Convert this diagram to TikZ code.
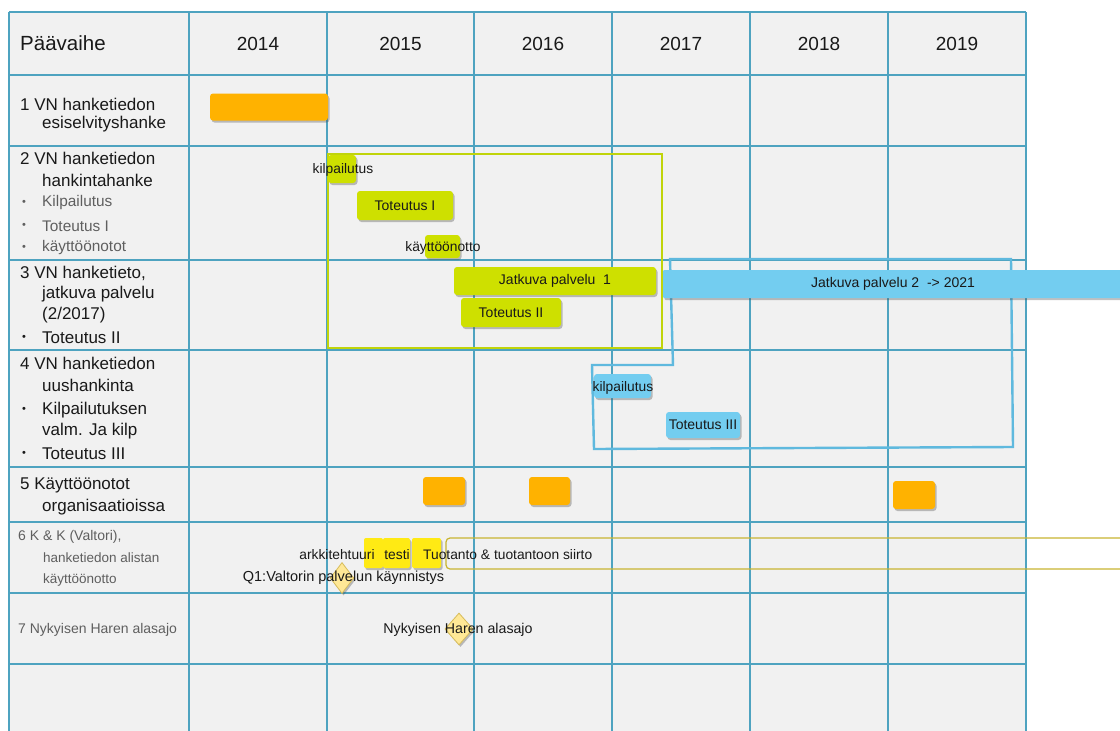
\documentclass[tikz,border=0pt]{standalone}
\usepackage{fontspec}
\setmainfont{Liberation Sans}
\usetikzlibrary{shapes.geometric,shadows}
\definecolor{gridc}{RGB}{78,163,192}
\definecolor{cellbg}{RGB}{241,241,241}
\definecolor{orangeC}{RGB}{255,178,0}
\definecolor{greenC}{RGB}{206,224,0}
\definecolor{greenL}{RGB}{192,212,10}
\definecolor{blueC}{RGB}{115,205,240}
\definecolor{blueL}{RGB}{95,185,222}
\definecolor{yellowC}{RGB}{255,234,20}
\definecolor{diamC}{RGB}{255,232,150}
\definecolor{diamL}{RGB}{215,188,90}
\definecolor{oliveL}{RGB}{200,180,50}
\definecolor{txtgray}{RGB}{95,95,95}
\definecolor{txtdark}{RGB}{25,25,25}
\newcommand\fsz[1]{\fontsize{#1}{#1}\selectfont}
\begin{document}
\begin{tikzpicture}[x=1pt,y=-1pt,
  gridline/.style={draw=gridc,line width=1.3pt},
  shad/.style={drop shadow={shadow xshift=1.5pt,shadow yshift=-2pt,opacity=0.35,fill=black!70}},
  barbox/.style={shad,rounded corners=3pt,inner sep=0pt,text=txtdark,font=\fsz{14}},
  orangebar/.style={barbox,fill=orangeC},
  greenbar/.style={barbox,fill=greenC},
  bluebar/.style={barbox,fill=blueC},
  yellowbar/.style={barbox,fill=yellowC,rounded corners=2pt},
  milestone/.style={diamond,shad,fill=diamC,draw=diamL,line width=0.8pt,inner sep=0pt,transform shape},
  yearlbl/.style={font=\fsz{19},text=txtdark},
  rowlbl/.style={anchor=west,font=\fsz{17},text=txtdark,inner sep=0pt},
  sublbl/.style={anchor=west,font=\fsz{15.4},text=txtgray,inner sep=0pt},
  graylbl/.style={anchor=west,font=\fsz{14},text=txtgray,inner sep=0pt},
  bul/.style={anchor=west,font=\fsz{11},inner sep=0pt},
  tlbl/.style={font=\fsz{13.8},text=txtdark,inner sep=0pt}
]
\clip (0,0) rectangle (1120,731);
\fill[white] (0,0) rectangle (1120,731);
\fill[cellbg] (9,12) rectangle (1026,731);
\foreach \x in {9,189,327,474,612,750,888,1026} \draw[gridline] (\x,12) -- (\x,731);
\foreach \y in {12,75,146,260,350,467,522,593,664} \draw[gridline] (9,\y) -- (1026,\y);

% header
\node[anchor=west,font=\fsz{20.5},text=txtdark,inner sep=0pt] (hdr) at (20,43.5) {Päävaihe};
\node[yearlbl] (y14) at (258,43.5) {2014};
\node[yearlbl] (y15) at (400.5,43.5) {2015};
\node[yearlbl] (y16) at (543,43.5) {2016};
\node[yearlbl] (y17) at (681,43.5) {2017};
\node[yearlbl] (y18) at (819,43.5) {2018};
\node[yearlbl] (y19) at (957,43.5) {2019};

% row labels
\node[rowlbl] (r1a) at (20,104) {1 VN hanketiedon};
\node[rowlbl] (r1b) at (42,124) {esiselvityshanke};
\node[rowlbl] (r2a) at (20,158) {2 VN hanketiedon};
\node[rowlbl] (r2b) at (42,180) {hankintahanke};
\node[bul,text=txtgray] (b2a) at (22,203) {•};
\node[sublbl] (r2c) at (42,203) {Kilpailutus};
\node[bul,text=txtgray] (b2b) at (22,226) {•};
\node[sublbl] (r2d) at (42,226) {Toteutus I};
\node[bul,text=txtgray] (b2c) at (22,248) {•};
\node[sublbl] (r2e) at (42,248) {käyttöönotot};
\node[rowlbl] (r3a) at (20,273) {3 VN hanketieto,};
\node[rowlbl] (r3b) at (42,294) {jatkuva palvelu};
\node[rowlbl] (r3c) at (42,315) {(2/2017)};
\node[bul,text=txtdark] (b3a) at (22,338) {•};
\node[rowlbl] (r3d) at (42,338) {Toteutus II};
\node[rowlbl] (r4a) at (20,363) {4 VN hanketiedon};
\node[rowlbl] (r4b) at (42,385) {uushankinta};
\node[bul,text=txtdark] (b4a) at (22,410) {•};
\node[rowlbl] (r4c) at (42,410) {Kilpailutuksen};
\node[rowlbl] (r4d) at (42,431) {valm. Ja kilp};
\node[bul,text=txtdark] (b4b) at (22,454) {•};
\node[rowlbl] (r4e) at (42,454) {Toteutus III};
\node[rowlbl] (r5a) at (20,485) {5 Käyttöönotot};
\node[rowlbl] (r5b) at (42,507) {organisaatioissa};
\node[graylbl] (r6a) at (18,537) {6 K \& K (Valtori),};
\node[graylbl,font=\fsz{13.5}] (r6b) at (43,558) {hanketiedon alistan};
\node[graylbl,font=\fsz{13.5}] (r6c) at (43,580) {käyttöönotto};
\node[graylbl] (r7a) at (18,630) {7 Nykyisen Haren alasajo};

% frames
\draw[draw=greenL,line width=2.8pt] (328,154) rectangle (662,348);
\draw[draw=blueL,line width=2.4pt] (594,449) -- (592,365) -- (673,365) -- (670,259) -- (1011,259) -- (1013,447) -- cycle;

% bars
\node[orangebar,minimum width=118pt,minimum height=27pt] (o1) at (269,107) {};
\node[greenbar,minimum width=28pt,minimum height=28pt] (gk) at (342,169) {};
\node[greenbar,minimum width=96pt,minimum height=29pt] (gt1) at (405,205.5) {Toteutus I};
\node[greenbar,minimum width=35pt,minimum height=23pt] (gko) at (442.5,246.5) {};
\node[greenbar,minimum width=202pt,minimum height=28pt] (gj1) at (555,281) {Jatkuva palvelu\ \ 1};
\node[greenbar,minimum width=100pt,minimum height=29pt] (gt2) at (511,312.5) {Toteutus II};
\node[bluebar,rounded corners=1pt,minimum width=462pt,minimum height=28pt] (bj2) at (894,284) {};
\node[bluebar,minimum width=57pt,minimum height=24pt] (bk) at (622.5,386) {};
\node[bluebar,minimum width=74pt,minimum height=26pt] (bt3) at (703,425) {Toteutus III};
\node[orangebar,minimum width=42pt,minimum height=28pt] (o5a) at (444,491) {};
\node[orangebar,minimum width=41pt,minimum height=28pt] (o5b) at (549.5,491) {};
\node[orangebar,minimum width=42pt,minimum height=28pt] (o5c) at (914,495) {};

% row 6
\node[draw=oliveL,line width=1.2pt,rounded corners=4pt,minimum width=690pt,minimum height=31pt,inner sep=0pt] (tuot) at (791,553.5) {};
\node[yellowbar,minimum width=19pt,minimum height=30pt] (ya) at (373.5,553) {};
\node[yellowbar,minimum width=27pt,minimum height=30pt] (yb) at (396.5,553) {};
\node[yellowbar,minimum width=29pt,minimum height=30pt] (yc) at (426.5,553) {};
\node[milestone,minimum width=31pt,minimum height=31pt,xscale=0.76] (d1) at (342,578) {};
\node[milestone,minimum width=32pt,minimum height=32pt,xscale=0.88] (d2) at (459,629) {};

% texts over shapes
\node[tlbl] (tk) at (343,170) {kilpailutus};
\node[tlbl] (tko) at (443,248) {käyttöönotto};
\node[tlbl,font=\fsz{14}] (tj2) at (893,284) {Jatkuva palvelu 2\ \ -> 2021};
\node[tlbl] (tbk) at (623,388) {kilpailutus};
\node[tlbl] (tark) at (337,555) {arkkitehtuuri};
\node[tlbl] (ttes) at (397,555) {testi};
\node[tlbl,anchor=west] (ttuo) at (423,555) {Tuotanto \& tuotantoon siirto};
\node[tlbl,font=\fsz{14.5}] (tq1) at (343.5,578) {Q1:Valtorin palvelun käynnistys};
\node[tlbl,font=\fsz{14.2}] (thar) at (458,630) {Nykyisen Haren alasajo};
\end{tikzpicture}
\end{document}
